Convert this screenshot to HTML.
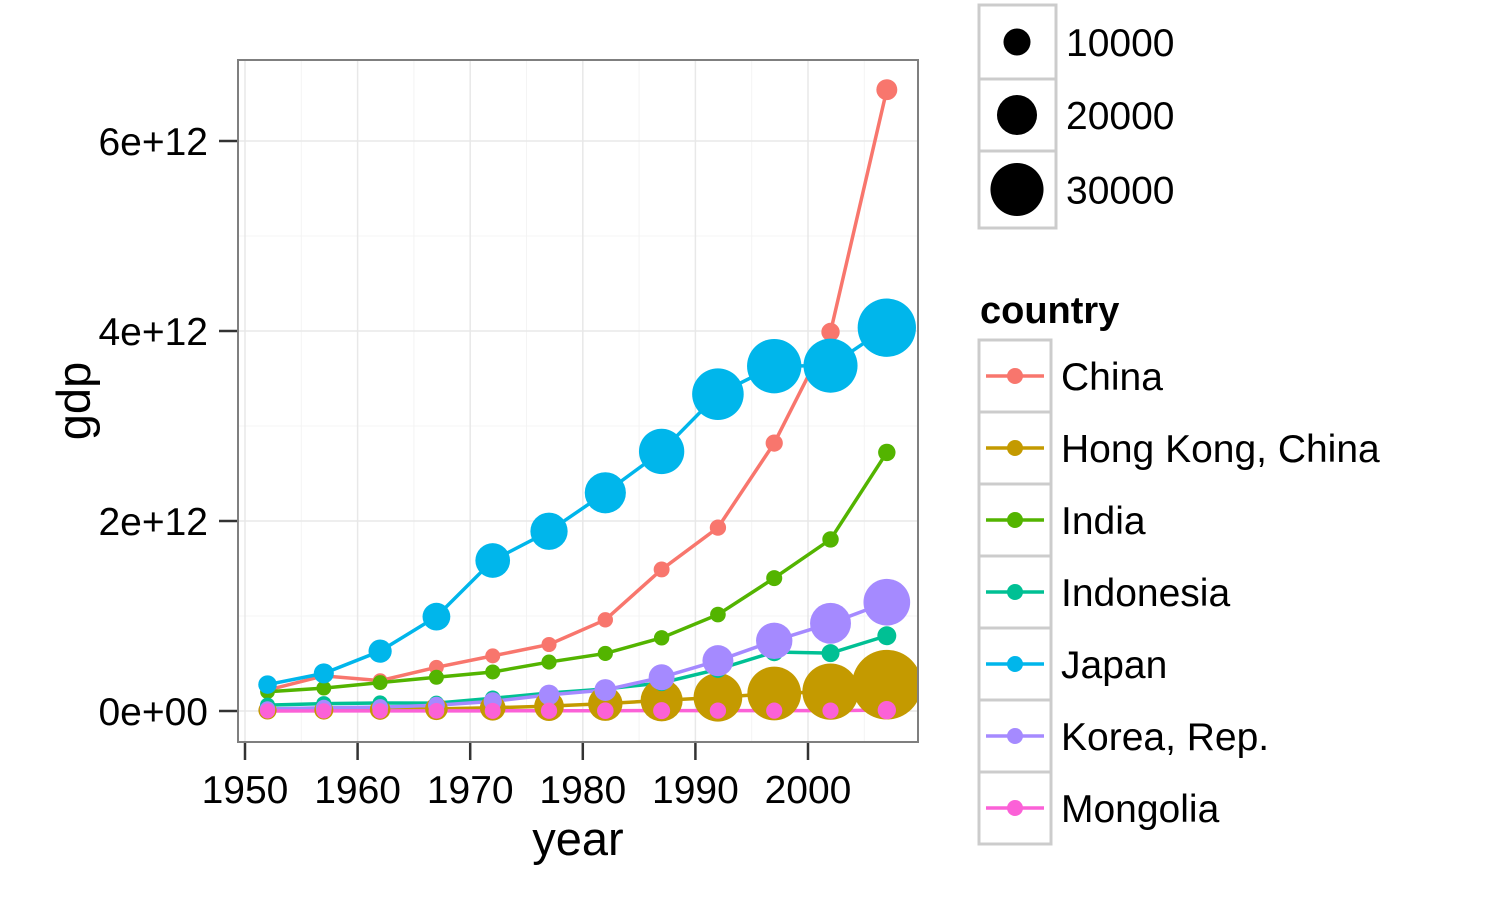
<!DOCTYPE html>
<html><head><meta charset="utf-8"><style>
body{margin:0;background:#fff;}
svg text{font-family:"Liberation Sans",sans-serif;}
</style></head><body>
<svg id="chart" width="1500" height="900">
<rect x="0" y="0" width="1500" height="900" fill="#fff"/>
<g id="plot"></g>
<g id="legend"></g>
</svg>
<script>
const years=[1952,1957,1962,1967,1972,1977,1982,1987,1992,1997,2002,2007];
const countries=["China","Hong Kong, China","India","Indonesia","Japan","Korea, Rep.","Mongolia"];
const colors=["#F8766D","#C49A00","#53B400","#00C094","#00B6EB","#A58AFF","#FB61D7"];
const gdpChina=[0.22,0.37,0.32,0.46,0.58,0.70,0.96,1.49,1.93,2.82,3.99,6.54];
const gdpHK=[0.0065,0.0099,0.0155,0.023,0.034,0.051,0.077,0.112,0.144,0.184,0.204,0.277];
const gdpIndia=[0.203,0.241,0.299,0.355,0.411,0.515,0.606,0.770,1.015,1.399,1.806,2.722];
const gdpIndonesia=[0.062,0.077,0.084,0.083,0.134,0.189,0.232,0.296,0.439,0.621,0.609,0.792];
const gdpJapan=[0.278,0.396,0.630,0.993,1.584,1.892,2.297,2.732,3.335,3.630,3.635,4.035];
const gdpKorea=[0.0216,0.0337,0.0405,0.061,0.1015,0.1695,0.221,0.355,0.530,0.739,0.923,1.145];
const gdpMongolia=[0.0006,0.0008,0.0011,0.0014,0.0019,0.0025,0.0032,0.0044,0.0038,0.0039,0.0042,0.0089];
const pcChina=[400,575,487,613,676,741,962,1379,1656,2289,3119,4959];
const pcHK=[3054,3629,4693,6198,8316,11186,14561,20038,24758,28378,30209,39725];
const pcIndia=[547,590,658,701,724,813,856,977,1164,1459,1746,2452];
const pcIndonesia=[750,859,849,762,1111,1383,1517,1748,2383,3119,2874,3541];
const pcJapan=[3217,4318,6577,9848,14779,16610,19384,22376,26825,28817,28605,31656];
const pcKorea=[1031,1488,1536,2029,3031,4657,5623,8533,12104,15994,19234,23348];
const pcMongolia=[786,912,1056,1226,1421,1648,1842,2155,1639,1558,1575,3096];
const xTicks=[1950,1960,1970,1980,1990,2000];
const yTicks=[0,2,4,6];
const yTickLabels=["0e+00","2e+12","4e+12","6e+12"];
const sizeBreaks=[10000,20000,30000];
const gdpSeries=[gdpChina,gdpHK,gdpIndia,gdpIndonesia,gdpJapan,gdpKorea,gdpMongolia];
const pcSeries=[pcChina,pcHK,pcIndia,pcIndonesia,pcJapan,pcKorea,pcMongolia];

const NS="http://www.w3.org/2000/svg";
const PL=238,PR=918,PT=60,PB=742;
const xs=v=>245+(v-1950)*11.26;
const ys=v=>711-v*95;
const rs=v=>7+0.0007*v;
function mk(tag,attrs,parent){const e=document.createElementNS(NS,tag);for(const k in attrs)e.setAttribute(k,attrs[k]);parent.appendChild(e);return e;}
const plot=document.getElementById('plot');
const panel=mk('rect',{x:PL,y:PT,width:PR-PL,height:PB-PT,fill:'#fff'},plot);


const minorY=[1,3,5];
minorY.forEach(v=>{const l=mk('line',{x1:PL,x2:PR,y1:ys(v),y2:ys(v),stroke:'#f4f4f4','stroke-width':1},plot);

});
[1955,1965,1975,1985,1995,2005].forEach(v=>{const l=mk('line',{x1:xs(v),x2:xs(v),y1:PT,y2:PB,stroke:'#f4f4f4','stroke-width':1},plot);

});
yTicks.forEach((v,i)=>{const l=mk('line',{x1:PL,x2:PR,y1:ys(v),y2:ys(v),stroke:'#e8e8e8','stroke-width':1.5},plot);


const t=mk('line',{x1:219,x2:238,y1:ys(v),y2:ys(v),stroke:'#333','stroke-width':2.5},plot);


const tx=mk('text',{x:208,y:ys(v)+14,'text-anchor':'end','font-size':39,fill:'#000'},plot);tx.textContent=yTickLabels[i];

});
xTicks.forEach(v=>{const l=mk('line',{x1:xs(v),x2:xs(v),y1:PT,y2:PB,stroke:'#e8e8e8','stroke-width':1.5},plot);


const t=mk('line',{x1:xs(v),x2:xs(v),y1:742,y2:760,stroke:'#333','stroke-width':2.5},plot);


const tx=mk('text',{x:xs(v),y:803,'text-anchor':'middle','font-size':39,fill:'#000'},plot);tx.textContent=v;

});
const cp=mk('clipPath',{id:'cp'},plot);
mk('rect',{x:PL,y:PT,width:PR-PL,height:PB-PT},cp);
const clipG=mk('g',{'clip-path':'url(#cp)'},plot);
gdpSeries.forEach((s,ci)=>{const p=mk('polyline',{points:s.map((v,i)=>xs(years[i])+','+ys(v)).join(' '),fill:'none',stroke:colors[ci],'stroke-width':3.5},clipG);

});
gdpSeries.forEach((s,ci)=>{s.forEach((v,i)=>{const c=mk('circle',{cx:xs(years[i]),cy:ys(v),r:rs(pcSeries[ci][i]),fill:colors[ci]},clipG);

});});
const border=mk('rect',{x:PL,y:PT,width:PR-PL,height:PB-PT,fill:'none',stroke:'#7f7f7f','stroke-width':2},plot);


const xt=mk('text',{x:578,y:855,'text-anchor':'middle','font-size':47,fill:'#000'},plot);xt.textContent='year';


const yt=mk('text',{x:0,y:0,'text-anchor':'middle','font-size':47,fill:'#000',transform:'translate(90,401) rotate(-90)'},plot);yt.textContent='gdp';


const lg=document.getElementById('legend');
const sizeTops=[5,79,151],sizeH=[74,72,77];
sizeBreaks.forEach((v,i)=>{const b=mk('rect',{x:979,y:sizeTops[i],width:77,height:sizeH[i],fill:'#fff',stroke:'#cccccc','stroke-width':3},lg);


const c=mk('circle',{cx:1017,cy:sizeTops[i]+sizeH[i]/2,r:rs(v)*0.93+0.5,fill:'#000'},lg);


const t=mk('text',{x:1066,y:sizeTops[i]+sizeH[i]/2+14,'font-size':39,fill:'#000'},lg);t.textContent=v;

});
const ct=mk('text',{x:980,y:323,'font-size':38,'font-weight':'bold',fill:'#000'},lg);ct.textContent='country';


countries.forEach((n,i)=>{const top=340+i*72;
const b=mk('rect',{x:979,y:top,width:72,height:72,fill:'#fff',stroke:'#cccccc','stroke-width':3},lg);


const l=mk('line',{x1:986,x2:1044,y1:top+36,y2:top+36,stroke:colors[i],'stroke-width':3.5},lg);


const c=mk('circle',{cx:1015,cy:top+36,r:8,fill:colors[i]},lg);


const t=mk('text',{x:1061,y:top+50,'font-size':39,fill:'#000'},lg);t.textContent=n;

});
</script>
</body></html>
